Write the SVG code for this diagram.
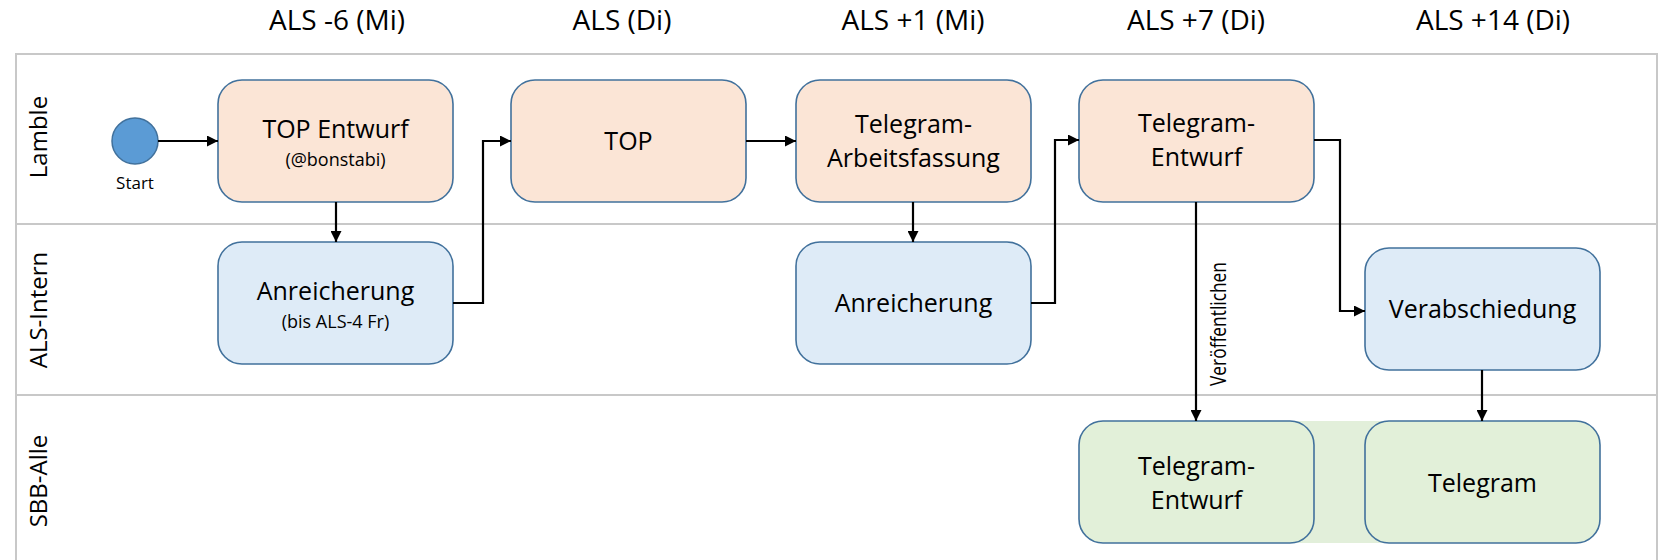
<svg xmlns="http://www.w3.org/2000/svg" width="1660" height="560" viewBox="0 0 1660 560">
<defs>
<style>
text{font-family:"Open Sans","Noto Sans","Liberation Sans",sans-serif;fill:#000}
.hdr{font-size:28px;text-anchor:middle}
.lane{font-size:24px;text-anchor:middle}
.lbl{font-size:25px;text-anchor:middle}
.sub{font-size:18px;text-anchor:middle}
.grid{stroke:#c8c8c8;stroke-width:2;fill:none}
.box{stroke:#41719c;stroke-width:1.6}
.o{fill:#fbe5d6}.b{fill:#deebf7}.g{fill:#e2f0d9}
.c{stroke:#000;stroke-width:2.2;fill:none;marker-end:url(#ah)}
</style>
<marker id="ah" viewBox="0 0 10 10" refX="10" refY="5" markerWidth="11" markerHeight="11" markerUnits="userSpaceOnUse" orient="auto">
<path d="M0,0 L10,5 L0,10 z" fill="#000"/>
</marker>
</defs>
<rect width="1660" height="560" fill="#fff"/>
<g id="headers">
<text class="hdr" x="337" y="30">ALS -6 (Mi)</text>
<text class="hdr" x="622" y="30">ALS (Di)</text>
<text class="hdr" x="913" y="30">ALS +1 (Mi)</text>
<text class="hdr" x="1196" y="30">ALS +7 (Di)</text>
<text class="hdr" x="1493" y="30">ALS +14 (Di)</text>
</g>
<g id="lanes">
<path class="grid" d="M16,570 V54 H1657 V570 M16,224 H1657 M16,395 H1657"/>
<text class="lane" transform="translate(47,137) rotate(-90)">Lamble</text>
<text class="lane" transform="translate(47,310) rotate(-90)">ALS-Intern</text>
<text class="lane" transform="translate(47,481) rotate(-90)">SBB-Alle</text>
</g>
<rect id="band" x="1250" y="421" width="140" height="122" fill="#e2efda"/>
<g id="start">
<circle cx="135" cy="141" r="23" fill="#5b9bd5" stroke="#41719c" stroke-width="1.5"/>
<text x="135" y="189" font-size="17" text-anchor="middle">Start</text>
</g>
<g id="top-entwurf">
<rect class="box o" x="218" y="80" width="235" height="122" rx="24"/>
<text class="lbl" x="335.5" y="138">TOP Entwurf</text>
<text class="sub" x="335.5" y="166">(@bonstabi)</text>
</g>
<g id="anreicherung1">
<rect class="box b" x="218" y="242" width="235" height="122" rx="24"/>
<text class="lbl" x="335.5" y="300">Anreicherung</text>
<text class="sub" x="335.5" y="328">(bis ALS-4 Fr)</text>
</g>
<g id="top">
<rect class="box o" x="511" y="80" width="235" height="122" rx="24"/>
<text class="lbl" x="628.5" y="150">TOP</text>
</g>
<g id="telegram-arbeitsfassung">
<rect class="box o" x="796" y="80" width="235" height="122" rx="24"/>
<text class="lbl" x="913.5" y="133">Telegram-</text>
<text class="lbl" x="913.5" y="167">Arbeitsfassung</text>
</g>
<g id="anreicherung2">
<rect class="box b" x="796" y="242" width="235" height="122" rx="24"/>
<text class="lbl" x="913.5" y="312">Anreicherung</text>
</g>
<g id="telegram-entwurf">
<rect class="box o" x="1079" y="80" width="235" height="122" rx="24"/>
<text class="lbl" x="1196.5" y="132">Telegram-</text>
<text class="lbl" x="1196.5" y="166">Entwurf</text>
</g>
<g id="verabschiedung">
<rect class="box b" x="1365" y="248" width="235" height="122" rx="24"/>
<text class="lbl" x="1482.5" y="318">Verabschiedung</text>
</g>
<g id="telegram-entwurf-alle">
<rect class="box g" x="1079" y="421" width="235" height="122" rx="24"/>
<text class="lbl" x="1196.5" y="475">Telegram-</text>
<text class="lbl" x="1196.5" y="509">Entwurf</text>
</g>
<g id="telegram">
<rect class="box g" x="1365" y="421" width="235" height="122" rx="24"/>
<text class="lbl" x="1482.5" y="492">Telegram</text>
</g>
<g id="connectors">
<path class="c" d="M158,141 H218"/>
<path class="c" d="M336,202 V242"/>
<path class="c" d="M453,303 H483 V141 H511"/>
<path class="c" d="M746,141 H796"/>
<path class="c" d="M913,202 V242"/>
<path class="c" d="M1031,303 H1055 V140 H1079"/>
<path class="c" d="M1196,202 V421"/>
<path class="c" d="M1314,140 H1340 V311 H1365"/>
<path class="c" d="M1482,370 V421"/>
<text transform="translate(1226,386) rotate(-90)" font-size="21" textLength="124" lengthAdjust="spacingAndGlyphs">Veröffentlichen</text>
</g>
</svg>
